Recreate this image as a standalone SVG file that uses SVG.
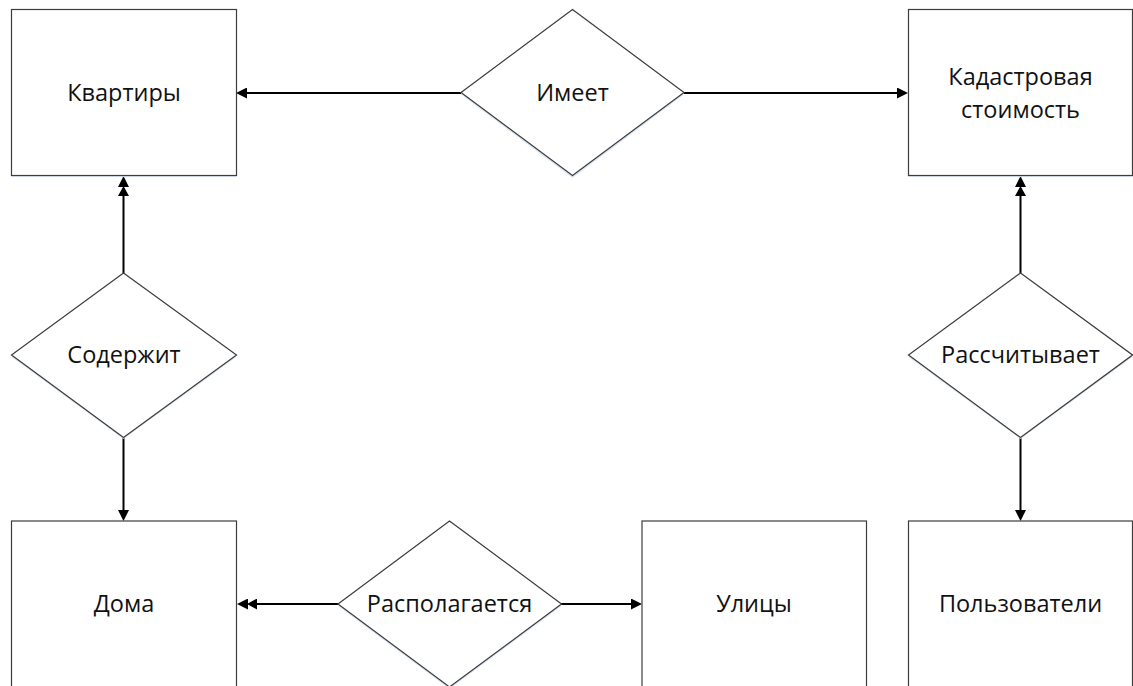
<svg xmlns="http://www.w3.org/2000/svg" width="1133" height="686" viewBox="0 0 1133 686">
<style>
.box{fill:#fff;stroke:#3c3c3c;stroke-width:1.2}
.shadow{fill:#d9e6f4;stroke:none}
.lbl{font-family:"Open Sans","Liberation Sans",sans-serif;font-size:23.5px;fill:#111;text-anchor:middle}
.conn{fill:none;stroke:#000;stroke-width:2}
</style>
<defs>
<marker id="arr" viewBox="0 0 11 11" refX="0" refY="5.5" markerWidth="11" markerHeight="11" markerUnits="userSpaceOnUse" orient="auto"><path d="M0,0 L11,5.5 L0,11 z" fill="#000"/></marker>
<marker id="arr2" viewBox="0 0 20 11" refX="0" refY="5.5" markerWidth="20" markerHeight="11" markerUnits="userSpaceOnUse" orient="auto"><path d="M0,0 L10,5.5 L0,11 z M9,0 L20,5.5 L9,11 z" fill="#000"/></marker>
</defs>
<rect width="1133" height="686" fill="#fff"/>
<g id="connectors">
<path class="conn" d="M461,93 H247" marker-end="url(#arr)"/>
<path class="conn" d="M684,93 H897" marker-end="url(#arr)"/>
<path class="conn" d="M123.5,273 V196" marker-end="url(#arr2)"/>
<path class="conn" d="M123.5,437 V510" marker-end="url(#arr)"/>
<path class="conn" d="M1020.5,273 V196" marker-end="url(#arr2)"/>
<path class="conn" d="M1020.5,437 V510" marker-end="url(#arr)"/>
<path class="conn" d="M338,604 H257" marker-end="url(#arr2)"/>
<path class="conn" d="M561,604 H631" marker-end="url(#arr)"/>
</g>
<g id="kvartiry">
<rect class="shadow" x="11.5" y="11" width="225" height="166"/>
<rect class="box" x="11.5" y="9.5" width="225" height="166"/>
<text class="lbl" x="124" y="101">Квартиры</text>
</g>
<g id="imeet">
<polygon class="shadow" points="572.5,11 684,94.5 572.5,178 461,94.5"/>
<polygon class="box" points="572.5,9.5 684,92.5 572.5,175.5 461,92.5"/>
<text class="lbl" x="572.5" y="101">Имеет</text>
</g>
<g id="kadastr">
<rect class="shadow" x="908.5" y="11" width="224" height="166"/>
<rect class="box" x="908.5" y="9.5" width="224" height="166"/>
<text class="lbl" x="1020.5" y="85">Кадастровая</text>
<text class="lbl" x="1020.5" y="118">стоимость</text>
</g>
<g id="soderzhit">
<polygon class="shadow" points="123.5,275 236.5,357 123.5,439 11.5,357"/>
<polygon class="box" points="123.5,273 236.5,355 123.5,437.5 11.5,355"/>
<text class="lbl" x="124" y="363">Содержит</text>
</g>
<g id="rasschityvaet">
<polygon class="shadow" points="1020.5,275 1132.5,357 1020.5,439 908.5,357"/>
<polygon class="box" points="1020.5,273 1132.5,355 1020.5,437.5 908.5,355"/>
<text class="lbl" x="1020.5" y="363">Рассчитывает</text>
</g>
<g id="doma">
<rect class="box" x="11.5" y="521" width="225" height="180"/>
<text class="lbl" x="124" y="612">Дома</text>
</g>
<g id="raspolagaetsya">
<polygon class="shadow" points="449.5,523 561.5,606 449.5,689 338,606"/>
<polygon class="box" points="449.5,521 561.5,604 449.5,687 338,604"/>
<text class="lbl" x="449.5" y="612">Располагается</text>
</g>
<g id="ulitsy">
<rect class="box" x="642" y="521" width="224.5" height="180"/>
<text class="lbl" x="754" y="612">Улицы</text>
</g>
<g id="polzovateli">
<rect class="box" x="908.5" y="521" width="224" height="180"/>
<text class="lbl" x="1020.5" y="612">Пользователи</text>
</g>
</svg>
